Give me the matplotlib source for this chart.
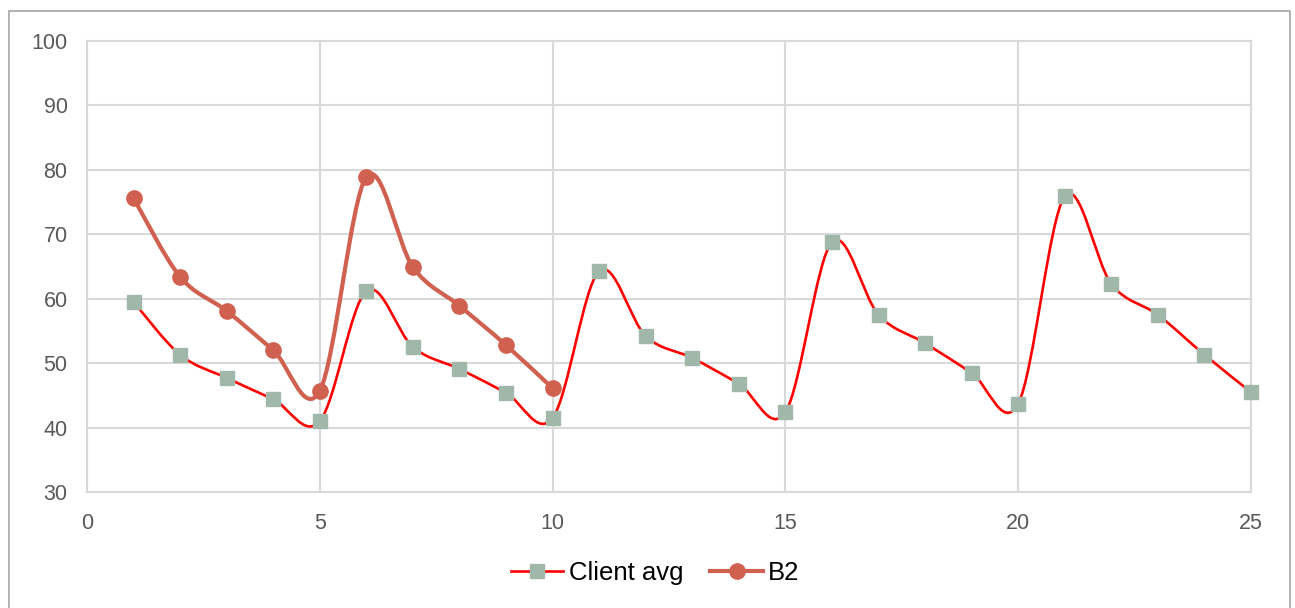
import matplotlib
matplotlib.use("Agg")
import matplotlib.pyplot as plt
from matplotlib.path import Path
from matplotlib.patches import PathPatch, Rectangle
from matplotlib.lines import Line2D
import numpy as np

plt.rcParams['font.family'] = ['Liberation Sans', 'DejaVu Sans']

x_client = list(range(1, 26))
client_avg = [59.5, 51.3, 47.7, 44.4, 41.0, 61.2, 52.5, 49.1, 45.4, 41.5,
              64.3, 54.2, 50.8, 46.8, 42.4, 68.8, 57.5, 53.1, 48.5, 43.7,
              75.9, 62.3, 57.5, 51.3, 45.5]
x_b2 = list(range(1, 11))
b2 = [75.6, 63.4, 58.1, 52.0, 45.7, 78.9, 64.9, 58.9, 52.8, 46.1]

xticks = [0, 5, 10, 15, 20, 25]
yticks = [30, 40, 50, 60, 70, 80, 90, 100]

RED = '#FF0000'
SQ = '#A0B7AA'
B2C = '#D0604F'


def smooth_path(xs, ys, t=1/6):
    xs = np.asarray(xs, float); ys = np.asarray(ys, float)
    n = len(xs)
    verts = [(xs[0], ys[0])]
    codes = [Path.MOVETO]
    for i in range(n - 1):
        p0 = np.array([xs[max(i - 1, 0)], ys[max(i - 1, 0)]])
        p1 = np.array([xs[i], ys[i]])
        p2 = np.array([xs[i + 1], ys[i + 1]])
        p3 = np.array([xs[min(i + 2, n - 1)], ys[min(i + 2, n - 1)]])
        c1 = p1 + (p2 - p0) * t
        c2 = p2 - (p3 - p1) * t
        verts += [tuple(c1), tuple(c2), tuple(p2)]
        codes += [Path.CURVE4] * 3
    return Path(verts, codes)


fig = plt.figure(figsize=(12.95, 6.08), dpi=100)
ax = fig.add_axes([87/1295, 1 - 492/608, (1251 - 87)/1295, (492 - 41)/608])

# outer border (bottom edge lies below the canvas)
fig.patches.append(Rectangle((9/1295, -0.05), (1290 - 9)/1295, 1.05 - 11/608,
                             transform=fig.transFigure, fill=False,
                             edgecolor='#A6A6A6', linewidth=1.2))

ax.set_xlim(0, 25)
ax.set_ylim(30, 100)
ax.set_xticks(xticks)
ax.set_yticks(yticks)
ax.grid(True, color='#D9D9D9', linewidth=1.5)
ax.set_axisbelow(True)
for s in ax.spines.values():
    s.set_color('#D9D9D9')
    s.set_linewidth(1.5)
ax.tick_params(length=0, labelsize=15.5, colors='#595959')
ax.tick_params(axis='y', pad=14)
ax.tick_params(axis='x', pad=15)

ax.add_patch(PathPatch(smooth_path(x_client, client_avg), fill=False,
                       edgecolor=RED, linewidth=1.9, zorder=3))
ax.plot(x_client, client_avg, linestyle='none', marker='s', markersize=10.5,
        color=SQ, zorder=4, clip_on=False)

ax.add_patch(PathPatch(smooth_path(x_b2, b2), fill=False,
                       edgecolor=B2C, linewidth=3.0, zorder=5))
ax.plot(x_b2, b2, linestyle='none', marker='o', markersize=11,
        color=B2C, zorder=6, clip_on=False)

handles = [Line2D([], [], color=RED, linewidth=1.9, marker='s', markersize=10.5,
                  markerfacecolor=SQ, markeredgecolor=SQ),
           Line2D([], [], color=B2C, linewidth=3.0, marker='o', markersize=11,
                  markerfacecolor=B2C, markeredgecolor=B2C)]
fig.legend(handles, ['Client avg', 'B2'], loc='center', ncol=2,
           bbox_to_anchor=(655/1295, 1 - 573/608), frameon=False, fontsize=18.5,
           handlelength=2.06, handletextpad=0.2, columnspacing=1.05)

fig.savefig('out.png', dpi=100)
